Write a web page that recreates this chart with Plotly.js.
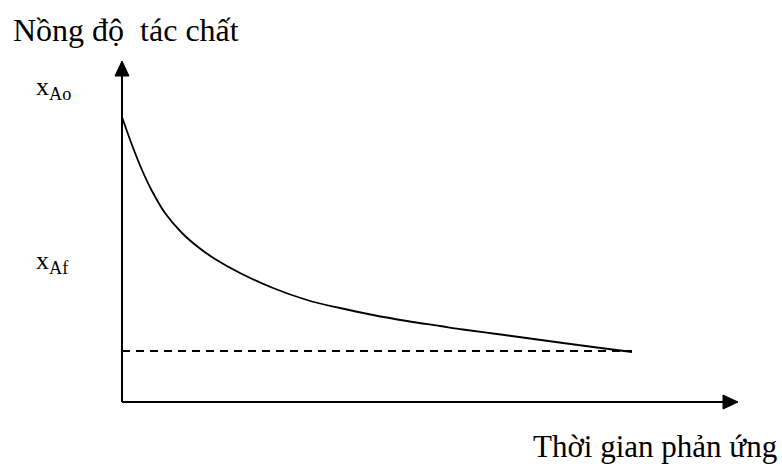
<!DOCTYPE html>
<html>
<head>
<meta charset="utf-8">
<script src="https://cdn.plot.ly/plotly-3.0.1.min.js"></script>
<style>html,body{margin:0;padding:0;background:#fff;}#chart{width:782px;height:468px;}</style>
</head>
<body>
<div id="chart"></div>
<script>
// Reaction time (arbitrary units) and reactant concentration (arbitrary units)
var time = [0, 1, 2, 3, 4.3, 6, 7.6, 9.3, 11.8, 15.1, 18.5, 21.8, 25.1, 28.5, 31.8, 34.1, 37.5, 40.8, 44.1, 47.5, 51];
var concentration = [28.5, 25.7, 23.2, 21.1, 18.9, 16.9, 15.5, 14.3, 12.9, 11.4, 10.2, 9.4, 8.7, 8.1, 7.6, 7.25, 6.8, 6.35, 5.9, 5.45, 5.0];
var finalLevelX = [0, 51];
var finalLevelY = [5.1, 5.1];
var xAxisEnd = 61.6;
var yAxisEnd = 34.1;

var titleText = 'Nồng độ  tác chất';
var xLabel = 'Thời gian phản ứng';
var labelStart = 'x<sub>Ao</sub>';
var labelFinal = 'x<sub>Af</sub>';

var serif = 'Liberation Serif, Times New Roman, serif';

var traces = [
  {x: time, y: concentration, mode: 'lines', line: {color: '#000', width: 1.8, shape: 'spline', smoothing: 1}, hoverinfo: 'skip', cliponaxis: false},
  {x: finalLevelX, y: finalLevelY, mode: 'lines', line: {color: '#000', width: 1.8, dash: '8px,6px'}, hoverinfo: 'skip', cliponaxis: false}
];

// plot area: x from 102 to 752 px (range -2..63), y from 42 to 422 px (range -2..36)
function px2paperX(p) { return (p - 102) / 650; }
function px2paperY(p) { return (422 - p) / 380; }

// arrowhead sizes in axis units (10 px per unit)
var headLen = 1.5, headHalf = 0.7;

var shapes = [
  {type: 'line', xref: 'x', yref: 'y', x0: 0, y0: 0, x1: 0, y1: yAxisEnd - headLen, line: {color: '#000', width: 2}},
  {type: 'line', xref: 'x', yref: 'y', x0: 0, y0: 0, x1: xAxisEnd - headLen, y1: 0, line: {color: '#000', width: 2}},
  {type: 'path', xref: 'x', yref: 'y', fillcolor: '#000', line: {color: '#000', width: 1},
   path: 'M 0 ' + yAxisEnd + ' L ' + (-headHalf) + ' ' + (yAxisEnd - headLen) + ' L ' + headHalf + ' ' + (yAxisEnd - headLen) + ' Z'},
  {type: 'path', xref: 'x', yref: 'y', fillcolor: '#000', line: {color: '#000', width: 1},
   path: 'M ' + xAxisEnd + ' 0 L ' + (xAxisEnd - headLen) + ' ' + headHalf + ' L ' + (xAxisEnd - headLen) + ' ' + (-headHalf) + ' Z'}
];

var layout = {
  width: 782, height: 468,
  margin: {l: 102, r: 30, t: 42, b: 46},
  paper_bgcolor: '#fff', plot_bgcolor: '#fff',
  showlegend: false,
  xaxis: {range: [-2, 63], showgrid: false, zeroline: false, showline: false, showticklabels: false, ticks: '', fixedrange: true},
  yaxis: {range: [-2, 36], showgrid: false, zeroline: false, showline: false, showticklabels: false, ticks: '', fixedrange: true},
  shapes: shapes,
  annotations: [
    {x: px2paperX(11), y: px2paperY(30), xref: 'paper', yref: 'paper', xanchor: 'left', yanchor: 'middle', text: titleText, showarrow: false, font: {family: serif, size: 32, color: '#000'}},
    {x: px2paperX(779), y: px2paperY(446), xref: 'paper', yref: 'paper', xanchor: 'right', yanchor: 'middle', text: xLabel, showarrow: false, font: {family: serif, size: 31, color: '#000'}},
    {x: px2paperX(34), y: px2paperY(88), xref: 'paper', yref: 'paper', xanchor: 'left', yanchor: 'middle', text: labelStart, showarrow: false, font: {family: serif, size: 26, color: '#000'}},
    {x: px2paperX(34), y: px2paperY(262), xref: 'paper', yref: 'paper', xanchor: 'left', yanchor: 'middle', text: labelFinal, showarrow: false, font: {family: serif, size: 26, color: '#000'}}
  ]
};

Plotly.newPlot('chart', traces, layout, {staticPlot: true, displayModeBar: false});
</script>
</body>
</html>
